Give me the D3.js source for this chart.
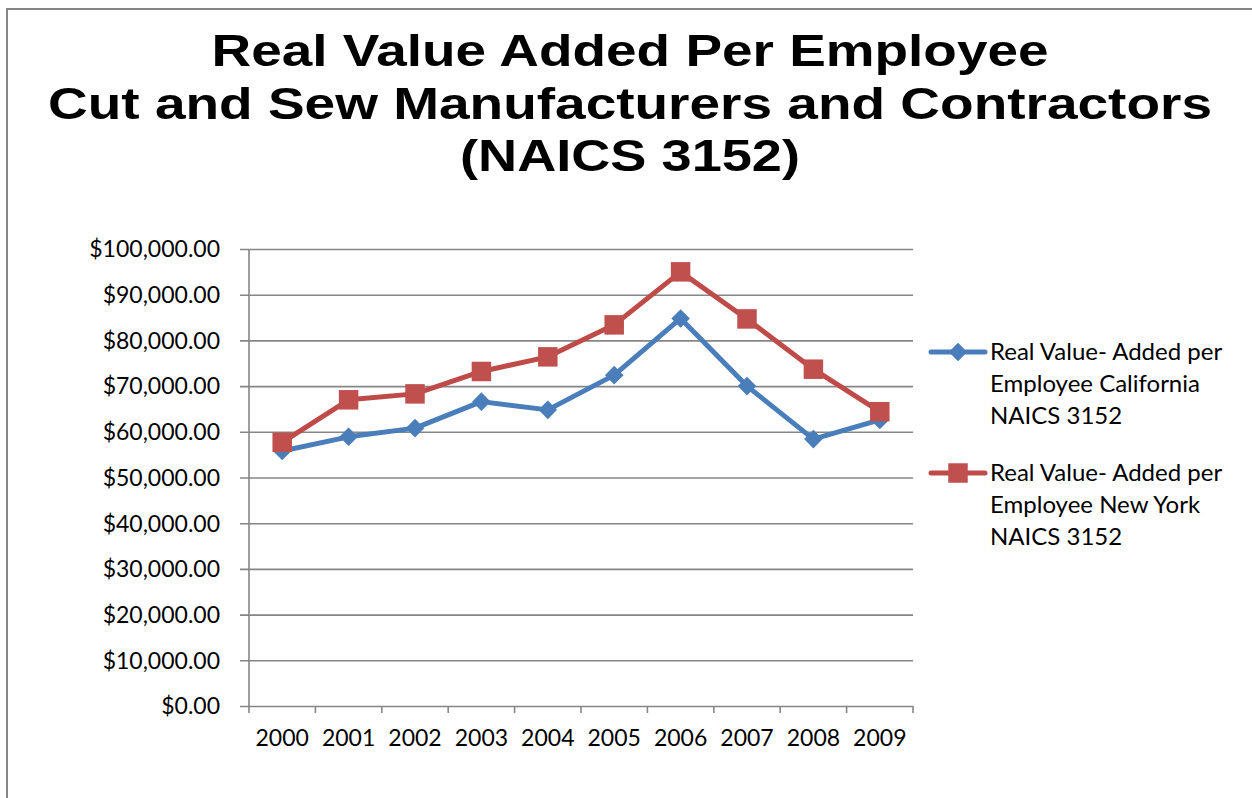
<!DOCTYPE html>
<html lang="en">
<head>
<meta charset="UTF-8">
<title>Real Value Added Per Employee</title>
<style>
  body { margin: 0; background: #fff; }
  .tick-label { font-family: Lato, "Open Sans", sans-serif; font-size: 23px; fill: #000; }
  .title { font-family: "Liberation Sans", Arial, sans-serif; font-weight: bold; font-size: 45px; fill: #000; text-anchor: middle; }
  .legend-text { font-family: Lato, "Open Sans", sans-serif; font-size: 24px; fill: #000; }
</style>
<script src="https://cdn.jsdelivr.net/npm/d3@7/dist/d3.min.js"></script>
</head>
<body>
<script>
// data
var years = ["2000","2001","2002","2003","2004","2005","2006","2007","2008","2009"];
var california = [55800, 58900, 60800, 66600, 64800, 72400, 84800, 70000, 58400, 62600];
var newYork = [57700, 67000, 68300, 73200, 76400, 83400, 95000, 84700, 73700, 64400];
var yTicks = [0, 10000, 20000, 30000, 40000, 50000, 60000, 70000, 80000, 90000, 100000];
var titleLines = ["Real Value Added Per Employee", "Cut and Sew Manufacturers and Contractors", "(NAICS 3152)"];
var legendLabels = [
  ["Real Value- Added per", "Employee California", "NAICS 3152"],
  ["Real Value- Added per", "Employee New York", "NAICS 3152"]
];

var width = 1252, height = 798;
var svg = d3.select("body").append("svg")
  .attr("width", width)
  .attr("height", height);

// chart border
svg.append("rect")
  .attr("x", 7).attr("y", 9)
  .attr("width", 1300).attr("height", 900)
  .attr("fill", "none")
  .attr("stroke", "#868686")
  .attr("stroke-width", 2);

// title
var titleWidths = [837, 1164, 340];
svg.selectAll(".title")
  .data(titleLines)
  .enter().append("text")
  .attr("class", "title")
  .attr("x", 630)
  .attr("y", function(d, i) { return 66 + i * 52.5; })
  .attr("textLength", function(d, i) { return titleWidths[i]; })
  .attr("lengthAdjust", "spacingAndGlyphs")
  .text(function(d) { return d; });

// scales
var plot = {left: 249, right: 913, top: 249, bottom: 706};
var xScale = d3.scaleBand().domain(years).range([plot.left, plot.right]);
var yScale = d3.scaleLinear().domain([0, 100000]).range([plot.bottom, plot.top]);
var cx = function(y) { return xScale(y) + xScale.bandwidth() / 2; };

// gridlines + y axis ticks
var yAxis = d3.axisLeft(yScale)
  .tickValues(yTicks)
  .tickSize(-(plot.right - plot.left))
  .tickSizeOuter(0)
  .tickFormat(function(d) { return "$" + d3.format(",.2f")(d); });

var gy = svg.append("g")
  .attr("transform", "translate(" + plot.left + ",0)")
  .call(yAxis);
gy.select(".domain").remove();
gy.selectAll(".tick line")
  .attr("x1", -9)
  .attr("stroke", "#868686")
  .attr("stroke-width", 1.6);
gy.selectAll(".tick text")
  .attr("class", "tick-label")
  .attr("x", -29)
  .attr("dy", "0.34em");

// y axis line
svg.append("line")
  .attr("x1", plot.left).attr("x2", plot.left)
  .attr("y1", plot.top).attr("y2", plot.bottom)
  .attr("stroke", "#868686").attr("stroke-width", 1.6);

// x axis
var xAxis = d3.axisBottom(xScale).tickSize(0).tickPadding(24);
var gx = svg.append("g")
  .attr("transform", "translate(0," + plot.bottom + ")")
  .call(xAxis);
gx.select(".domain").remove();
gx.selectAll(".tick text").attr("class", "tick-label").attr("text-anchor", "middle");

// boundary ticks on x axis
var bounds = years.map(function(y) { return xScale(y); }).concat([plot.right]);
svg.selectAll(".xbound")
  .data(bounds)
  .enter().append("line")
  .attr("class", "xbound")
  .attr("x1", function(d) { return d; }).attr("x2", function(d) { return d; })
  .attr("y1", plot.bottom).attr("y2", plot.bottom + 7)
  .attr("stroke", "#868686").attr("stroke-width", 1.6);

// lines
var blue = "#4A7EBB", red = "#BE4B48";
var line = d3.line()
  .x(function(d, i) { return cx(years[i]); })
  .y(function(d) { return yScale(d); });

svg.append("path")
  .attr("d", line(california))
  .attr("fill", "none").attr("stroke", blue).attr("stroke-width", 5)
  .attr("stroke-linejoin", "round");

svg.append("path")
  .attr("d", line(newYork))
  .attr("fill", "none").attr("stroke", red).attr("stroke-width", 5)
  .attr("stroke-linejoin", "round");

// markers
var diamond = d3.symbol().type(d3.symbolDiamond2).size(220);
var square = d3.symbol().type(d3.symbolSquare).size(380);

svg.selectAll(".ca-pt")
  .data(california)
  .enter().append("path")
  .attr("class", "ca-pt")
  .attr("d", diamond)
  .attr("transform", function(d, i) { return "translate(" + cx(years[i]) + "," + yScale(d) + ")"; })
  .attr("fill", blue);

svg.selectAll(".ny-pt")
  .data(newYork)
  .enter().append("path")
  .attr("class", "ny-pt")
  .attr("d", square)
  .attr("transform", function(d, i) { return "translate(" + cx(years[i]) + "," + yScale(d) + ")"; })
  .attr("fill", "#C0504D");

// legend
var legendColors = [blue, red];
var legendSymbols = [diamond, square];
var legend = svg.selectAll(".legend")
  .data(legendLabels)
  .enter().append("g")
  .attr("class", "legend")
  .attr("transform", function(d, i) { return "translate(931," + (352 + i * 121) + ")"; });

legend.append("line")
  .attr("x1", 0).attr("x2", 54)
  .attr("stroke", function(d, i) { return legendColors[i]; })
  .attr("stroke-width", 5)
  .attr("stroke-linecap", "round");

legend.append("path")
  .attr("d", function(d, i) { return legendSymbols[i](); })
  .attr("transform", "translate(27,0)")
  .attr("fill", function(d, i) { return i === 0 ? blue : "#C0504D"; });

legend.selectAll("text")
  .data(function(d) { return d; })
  .enter().append("text")
  .attr("class", "legend-text")
  .attr("x", 59)
  .attr("y", function(d, j) { return 8 + j * 32; })
  .text(function(d) { return d; });
</script>
</body>
</html>
